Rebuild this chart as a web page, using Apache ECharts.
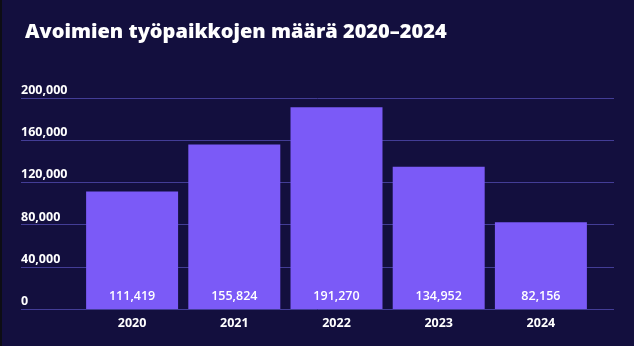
<!DOCTYPE html>
<html><head><meta charset="utf-8">
<script src="https://cdn.jsdelivr.net/npm/echarts@6/dist/echarts.min.js"></script>
<style>html,body{margin:0;padding:0;background:#130f3e;}#c{width:634px;height:346px;}</style>
</head><body><div id="c"></div>
<script>
const categories = ['2020', '2021', '2022', '2023', '2024'];
const values = [111419, 155824, 191270, 134952, 82156];
const yTicks = [0, 40000, 80000, 120000, 160000, 200000];
const title = 'Avoimien työpaikkojen määrä 2020–2024';

const fmt = v => v.toLocaleString('en-US');
const FONT = 'Open Sans';
const chart = echarts.init(document.getElementById('c'), null, {renderer: 'canvas'});
chart.setOption({
  backgroundColor: '#130f3e',
  animation: false,
  title: {
    text: title, left: 20, top: 17,
    textStyle: {color: '#ffffff', fontFamily: FONT, fontWeight: 800, fontSize: 20}
  },
  graphic: [{type: 'rect', shape: {x: 0, y: 0, width: 2, height: 346}, style: {fill: '#0d0d14'}}],
  grid: [
    {left: 21, right: 20, top: 98, bottom: 37},
    {left: 81, right: 42, top: 98, bottom: 37}
  ],
  xAxis: [
    {gridIndex: 0, type: 'category', data: categories, show: false},
    {gridIndex: 1, type: 'category', data: categories,
     axisLine: {show: false}, axisTick: {show: false},
     axisLabel: {color: '#ffffff', fontFamily: FONT, fontWeight: 'bold', fontSize: 12.5, margin: 8}}
  ],
  yAxis: [
    {gridIndex: 0, type: 'value', min: yTicks[0], max: yTicks[yTicks.length - 1], interval: 40000,
     axisLine: {show: false}, axisTick: {show: false},
     splitLine: {lineStyle: {color: '#433d96', width: 1}},
     axisLabel: {inside: true, align: 'left', verticalAlign: 'bottom', margin: 0, padding: [0, 0, 1, 0],
       color: '#ffffff', fontFamily: FONT, fontWeight: 'bold', fontSize: 12.5, formatter: v => fmt(v)}},
    {gridIndex: 1, type: 'value', min: yTicks[0], max: yTicks[yTicks.length - 1], interval: 40000, show: false}
  ],
  series: [{
    type: 'bar', xAxisIndex: 1, yAxisIndex: 1, data: values,
    barCategoryGap: '10%',
    itemStyle: {color: '#7b5af7'},
    label: {show: true, position: 'insideBottom', distance: 6, color: '#ffffff',
      fontFamily: FONT, fontWeight: 600, fontSize: 12.5, formatter: p => fmt(p.value)}
  }]
});
</script></body></html>
